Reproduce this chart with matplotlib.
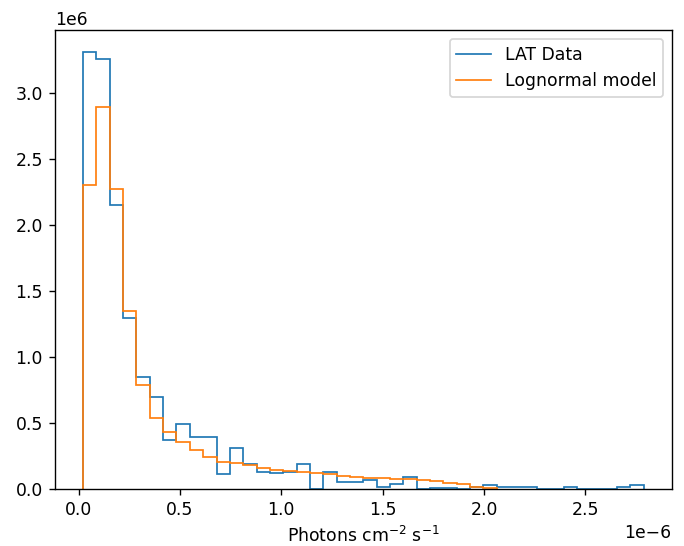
import numpy as np
import matplotlib
matplotlib.use('Agg')
import matplotlib.pyplot as plt
from matplotlib.lines import Line2D

# shared bin edges (photons cm^-2 s^-1)
edge_lo = 0.0217e-6
edge_hi = 2.788e-6
n_bins = 42

# density values, in units of 1e6
lat_data = [3.31, 3.255, 2.154, 1.295, 0.849, 0.693, 0.370, 0.491, 0.391, 0.391,
            0.113, 0.307, 0.189, 0.131, 0.118, 0.131, 0.191, 0.0, 0.131, 0.053,
            0.053, 0.068, 0.015, 0.035, 0.088, 0.0, 0.008, 0.008, 0.0, 0.012,
            0.030, 0.012, 0.012, 0.012, 0.0, 0.0, 0.012, 0.0, 0.0, 0.0,
            0.012, 0.030]
lognormal_model = [2.305, 2.895, 2.273, 1.348, 0.784, 0.539, 0.433, 0.353, 0.295, 0.244,
                   0.206, 0.199, 0.183, 0.160, 0.146, 0.136, 0.126, 0.118, 0.110, 0.100,
                   0.090, 0.087, 0.084, 0.076, 0.073, 0.068, 0.058, 0.048, 0.035, 0.018,
                   0.006]


def plotFigure():
    edges = np.linspace(edge_lo, edge_hi, n_bins + 1)
    data = np.array(lat_data) * 1e6
    model = np.array(lognormal_model) * 1e6
    model_edges = edges[:len(model) + 1]

    dpi = 124
    fig = plt.figure(figsize=(684 / dpi, 546 / dpi), dpi=dpi)
    ax = fig.add_axes([0.0804, 0.1044, 0.9016, 0.8406])
    ax.hist(edges[:-1], bins=edges, weights=data, histtype='step', color='C0')
    ax.hist(model_edges[:-1], bins=model_edges, weights=model, histtype='step', color='C1')
    ax.set_xlabel(r'Photons cm$^{-2}$ s$^{-1}$')

    handles = [Line2D([], [], color='C0', linewidth=1), Line2D([], [], color='C1', linewidth=1)]
    ax.legend(handles, ['LAT Data', 'Lognormal model'], loc='upper right')
    fig.savefig('out.png', dpi=dpi)


plotFigure()
